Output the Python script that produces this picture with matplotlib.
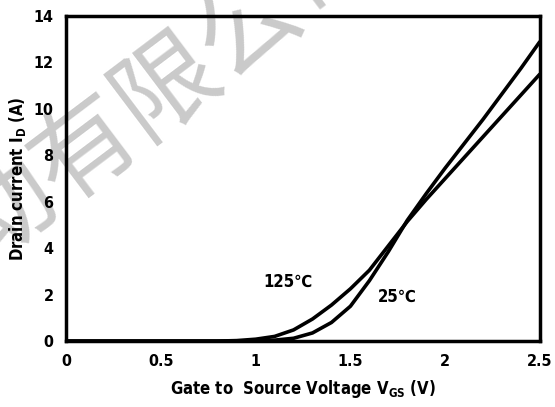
import matplotlib.pyplot as plt

plt.rcParams['font.family'] = ['DejaVu Sans']
plt.rcParams['font.stretch'] = 'condensed'
plt.rcParams['font.weight'] = 'bold'
plt.rcParams['axes.labelweight'] = 'bold'
plt.rcParams['mathtext.fontset'] = 'custom'
plt.rcParams['mathtext.rm'] = 'DejaVu Sans:bold:stretch=condensed'

# transfer characteristics
vgs_125 = [0.0, 0.8, 0.9, 1.0, 1.1, 1.2, 1.3, 1.4, 1.5, 1.6, 1.7, 1.8, 1.9, 2.0, 2.1, 2.2, 2.3, 2.4, 2.5]
id_125 = [0.0, 0.0, 0.02, 0.08, 0.2, 0.48, 0.95, 1.55, 2.25, 3.05, 4.1, 5.15, 6.1, 7.0, 7.9, 8.8, 9.7, 10.6, 11.5]

vgs_25 = [0.0, 1.0, 1.1, 1.2, 1.3, 1.4, 1.5, 1.6, 1.7, 1.8, 1.9, 2.0, 2.1, 2.2, 2.3, 2.4, 2.5]
id_25 = [0.0, 0.0, 0.04, 0.12, 0.35, 0.8, 1.5, 2.6, 3.85, 5.2, 6.35, 7.45, 8.5, 9.55, 10.65, 11.75, 12.9]

x_ticks = [0, 0.5, 1, 1.5, 2, 2.5]
x_tick_labels = ['0', '0.5', '1', '1.5', '2', '2.5']
y_ticks = [0, 2, 4, 6, 8, 10, 12, 14]

fig = plt.figure(figsize=(5.55, 4.07), dpi=100)
ax = fig.add_axes([0.119, 0.162, 0.854, 0.799])
ax.patch.set_facecolor('none')

# watermark behind the axes
fig.text(0.303, 0.786, '动有限公司', fontsize=74, color='#cacaca', rotation=37,
         ha='center', va='center', family=['Noto Sans CJK SC', 'DejaVu Sans'],
         fontweight='normal', fontstretch='normal', zorder=-1)

ax.plot(vgs_125, id_125, color='black', lw=2.6, solid_capstyle='butt', solid_joinstyle='round')
ax.plot(vgs_25, id_25, color='black', lw=2.6, solid_capstyle='butt', solid_joinstyle='round')

ax.text(1.17, 2.55, '125℃', fontsize=12, ha='center', va='center')
ax.text(1.745, 1.9, '25℃', fontsize=12, ha='center', va='center')

ax.set_xlim(0, 2.5)
ax.set_ylim(0, 14)
ax.set_xticks(x_ticks)
ax.set_xticklabels(x_tick_labels)
ax.set_yticks(y_ticks)
ax.tick_params(length=0, labelsize=11.5, pad=9)
for s in ax.spines.values():
    s.set_linewidth(2.5)

ax.set_xlabel(r'Gate to  Source Voltage V$_\mathrm{GS}$ (V)', fontsize=12, labelpad=7)
ax.set_ylabel(r'Drain current I$_\mathrm{D}$ (A)', fontsize=12, labelpad=4)

fig.savefig('out.png', dpi=100)
